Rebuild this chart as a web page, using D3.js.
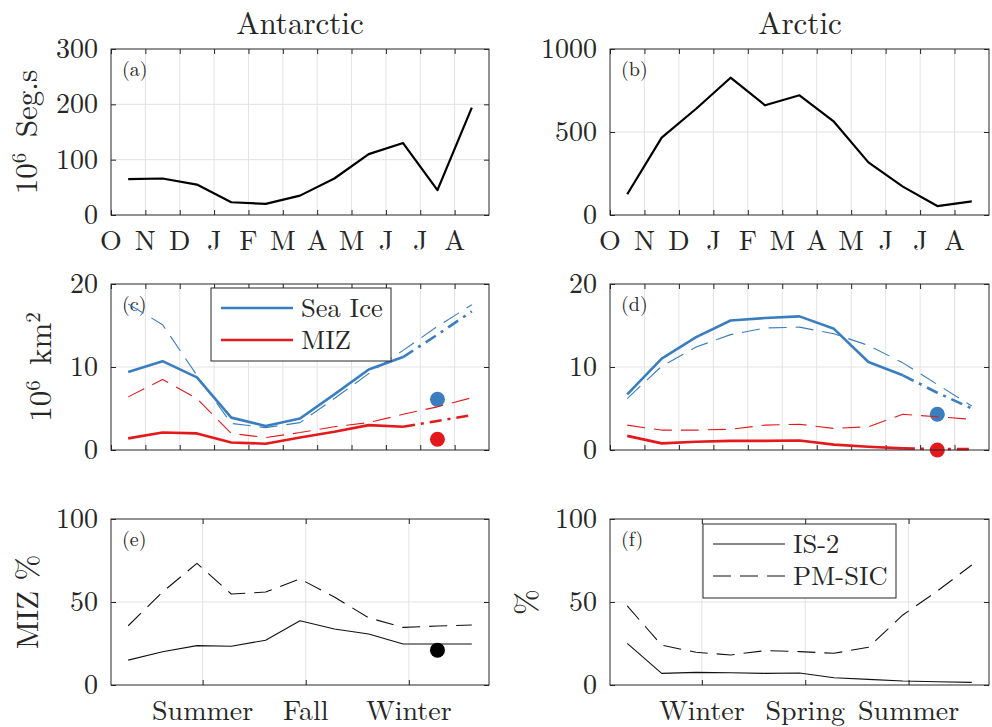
<!DOCTYPE html>
<html>
<head>
<meta charset="utf-8">
<script src="https://cdn.jsdelivr.net/npm/d3@7"></script>
<style>
  body { margin: 0; background: #fff; }
</style>
</head>
<body>
<div id="chart"></div>
<script>
// month labels along the top row, seasons along the bottom row
var months = ["O", "N", "D", "J", "F", "M", "A", "M", "J", "J", "A"];
var seasonsAnt = ["Summer", "Fall", "Winter"];
var seasonsArc = ["Winter", "Spring", "Summer"];
var seasonTicks = [8 / 3, 17 / 3, 26 / 3];

// (a) (b) segments, 10^6
var segAnt = [65, 66, 55, 23, 20, 35, 66, 110, 130, 45, 194];
var segArc = [125, 466, 640, 827, 661, 721, 562, 317, 171, 54, 82];

// (c) (d) extent, 10^6 km^2
var iceAntIS2 = [9.4, 10.7, 8.75, 3.9, 2.9, 3.8, 6.7, 9.7, 11.2, 13.9, 16.7];
var iceAntPM  = [17.6, 15.1, 9.0, 3.2, 2.7, 3.3, 6.2, 9.2, 12.0, 14.9, 17.5];
var mizAntIS2 = [1.4, 2.1, 2.0, 0.9, 0.76, 1.5, 2.2, 3.0, 2.8, 3.5, 4.2];
var mizAntPM  = [6.4, 8.5, 6.2, 2.0, 1.5, 2.1, 2.8, 3.3, 4.3, 5.2, 6.3];
var iceArcIS2 = [6.7, 11.0, 13.6, 15.6, 15.9, 16.1, 14.6, 10.6, 9.0, 6.9, 5.0];
var iceArcPM  = [6.2, 10.1, 12.4, 13.9, 14.7, 14.8, 14.0, 12.6, 10.5, 7.9, 5.3];
var mizArcIS2 = [1.7, 0.8, 1.0, 1.1, 1.1, 1.15, 0.65, 0.4, 0.2, 0.1, 0.1];
var mizArcPM  = [3.0, 2.4, 2.4, 2.5, 3.0, 3.1, 2.6, 2.8, 4.3, 4.0, 3.7];
var dotAnt = { ice: 6.1, miz: 1.3 };
var dotArc = { ice: 4.3, miz: 0 };

// (e) (f) MIZ fraction, %
var pctAntIS2 = [15, 20, 23.7, 23.3, 27, 38.7, 33.7, 30.7, 24.7, 24.7, 24.7];
var pctAntPM  = [35.7, 56, 73.3, 54.8, 56, 63.9, 53, 40.5, 34.7, 35.5, 36.1];
var pctArcIS2 = [25.1, 7, 7.6, 7.4, 7, 7.2, 4.4, 3.4, 2.4, 2, 1.6];
var pctArcPM  = [47.6, 24, 19.7, 18.1, 20.7, 20.1, 19.1, 22.7, 42.2, 56.6, 72.3];
var dotPctAnt = 21;

var blue = "#3b7ec0", red = "#e3191c", axisCol = "#262626";
var serif = "'Latin Modern Roman'";
var W = 992, H = 727;

var svg = d3.select("#chart").append("svg")
  .attr("width", W).attr("height", H);

var cols = [[111, 489], [610, 989]];
var rows = [[49, 215], [284, 450], [519, 685]];

function txt(sel) {
  return sel.append("text").style("font-family", serif).attr("fill", axisCol);
}

function panel(col, row, ymax, yticks, xticks, xlabels, label) {
  var x = d3.scaleLinear().domain([0, 11]).range(cols[col]);
  var y = d3.scaleLinear().domain([0, ymax]).range([rows[row][1], rows[row][0]]);
  var g = svg.append("g");
  var x0 = cols[col][0], x1 = cols[col][1], y0 = rows[row][0], y1 = rows[row][1];

  // grid
  g.selectAll(".gx").data(xticks.filter(function(d) { return d > 0; }))
    .enter().append("line")
    .attr("x1", function(d) { return x(d); }).attr("x2", function(d) { return x(d); })
    .attr("y1", y0).attr("y2", y1)
    .attr("stroke", "#e3e3e3").attr("stroke-width", 1);
  g.selectAll(".gy").data(yticks.filter(function(d) { return d > 0 && d < ymax; }))
    .enter().append("line")
    .attr("x1", x0).attr("x2", x1)
    .attr("y1", function(d) { return y(d); }).attr("y2", function(d) { return y(d); })
    .attr("stroke", "#e3e3e3").attr("stroke-width", 1);

  // axes (inward ticks, box on)
  var tl = 5;
  g.append("g").attr("transform", "translate(0," + y1 + ")")
    .call(d3.axisTop(x).tickValues(xticks).tickSize(tl).tickFormat(""));
  g.append("g").attr("transform", "translate(0," + y0 + ")")
    .call(d3.axisBottom(x).tickValues(xticks).tickSize(tl).tickFormat(""));
  g.append("g").attr("transform", "translate(" + x0 + ",0)")
    .call(d3.axisRight(y).tickValues(yticks).tickSize(tl).tickFormat(""));
  g.append("g").attr("transform", "translate(" + x1 + ",0)")
    .call(d3.axisLeft(y).tickValues(yticks).tickSize(tl).tickFormat(""));
  g.selectAll(".domain").remove();
  g.selectAll(".tick line").attr("stroke", axisCol);
  g.selectAll(".tick text").remove();

  yticks.forEach(function(d) {
    txt(g).attr("x", x0 - 13).attr("y", y(d) + 9)
      .attr("text-anchor", "end").attr("font-size", 28)
      .text(d);
  });

  if (xlabels) {
    xlabels.forEach(function(d, i) {
      txt(g).attr("x", x(xticks[i]))
        .attr("y", y1 + 35)
        .attr("text-anchor", "middle").attr("font-size", 28)
        .text(d);
    });
  }

  txt(g).attr("x", x0 + 11).attr("y", y0 + 27)
    .attr("font-size", 20).text(label);

  g.append("rect").attr("x", x0).attr("y", y0)
    .attr("width", x1 - x0).attr("height", y1 - y0)
    .attr("fill", "none").attr("stroke", axisCol).attr("stroke-width", 1);

  return { g: g, x: x, y: y };
}

function addLine(p, vals, color, width, dash, from, to) {
  var pts = vals.map(function(v, i) { return [i + 0.5, v]; }).slice(from || 0, to == null ? vals.length : to + 1);
  var line = d3.line().x(function(d) { return p.x(d[0]); }).y(function(d) { return p.y(d[1]); });
  p.g.insert("path", "rect:last-of-type")
    .datum(pts)
    .attr("d", line)
    .attr("fill", "none").attr("stroke", color)
    .attr("stroke-width", width)
    .attr("stroke-dasharray", dash || null)
    .attr("stroke-linejoin", "round");
}

function addDot(p, xv, v, color) {
  p.g.insert("circle", "rect:last-of-type")
    .attr("cx", p.x(xv)).attr("cy", p.y(v)).attr("r", 7.5).attr("fill", color);
}

var monthTicks = d3.range(0, 11);
var dashPM = "18,9", dashDot = "12,6,3,6";

// (a)
var pa = panel(0, 0, 300, [0, 100, 200, 300], monthTicks, months, "(a)");
addLine(pa, segAnt, "#000", 2.2);
// (b)
var pb = panel(1, 0, 1000, [0, 500, 1000], monthTicks, months, "(b)");
addLine(pb, segArc, "#000", 2.2);

// (c)
var pc = panel(0, 1, 20, [0, 10, 20], monthTicks, null, "(c)");
addDot(pc, 9.5, dotAnt.ice, blue);
addLine(pc, iceAntPM, blue, 1.1, dashPM);
addLine(pc, mizAntPM, red, 1.1, dashPM);
addLine(pc, iceAntIS2, blue, 2.6, null, 0, 8);
addLine(pc, iceAntIS2, blue, 2.6, dashDot, 8, 10);
addLine(pc, mizAntIS2, red, 2.6, null, 0, 8);
addLine(pc, mizAntIS2, red, 2.6, dashDot, 8, 10);
addDot(pc, 9.5, dotAnt.miz, red);

// (d)
var pd = panel(1, 1, 20, [0, 10, 20], monthTicks, null, "(d)");
addDot(pd, 9.5, dotArc.ice, blue);
addLine(pd, iceArcPM, blue, 1.1, dashPM);
addLine(pd, mizArcPM, red, 1.1, dashPM);
addLine(pd, iceArcIS2, blue, 2.6, null, 0, 8);
addLine(pd, iceArcIS2, blue, 2.6, dashDot, 8, 10);
addLine(pd, mizArcIS2, red, 2.6, null, 0, 8);
addLine(pd, mizArcIS2, red, 2.6, dashDot, 8, 10);
addDot(pd, 9.5, dotArc.miz, red);

// (e)
var pe = panel(0, 2, 100, [0, 50, 100], seasonTicks, seasonsAnt, "(e)");
addLine(pe, pctAntIS2, "#111", 1.1);
addLine(pe, pctAntPM, "#111", 1.1, dashPM);
addDot(pe, 9.5, dotPctAnt, "#000");

// (f)
var pf = panel(1, 2, 100, [0, 50, 100], seasonTicks, seasonsArc, "(f)");
addLine(pf, pctArcIS2, "#111", 1.1);
addLine(pf, pctArcPM, "#111", 1.1, dashPM);

// titles
txt(svg).attr("x", 300).attr("y", 34).attr("text-anchor", "middle")
  .attr("font-size", 31).text("Antarctic");
txt(svg).attr("x", 800).attr("y", 34).attr("text-anchor", "middle")
  .attr("font-size", 31).text("Arctic");

// y labels
function ylabel(cx, cy, parts) {
  var t = txt(svg).attr("transform", "translate(" + cx + "," + cy + ") rotate(-90)")
    .attr("text-anchor", "middle").attr("font-size", 31);
  parts.forEach(function(p) {
    t.append("tspan").attr("dy", p.sup ? -11 : (p.after ? 11 : 0))
      .attr("font-size", p.sup ? 21 : 31).text(p.t);
  });
}
ylabel(37, 132, [{ t: "10" }, { t: "6", sup: true }, { t: "\u00a0Seg.s", after: true }]);
ylabel(51, 367, [{ t: "10" }, { t: "6", sup: true }, { t: "\u00a0km", after: true }, { t: "2", sup: true }]);
ylabel(38, 602, [{ t: "MIZ %" }]);
ylabel(537, 602, [{ t: "%" }]);

// legends
function legend(x0, y0, w, h, items) {
  var g = svg.append("g");
  g.append("rect").attr("x", x0).attr("y", y0).attr("width", w).attr("height", h)
    .attr("fill", "#fff").attr("stroke", axisCol).attr("stroke-width", 1);
  items.forEach(function(it, i) {
    var yy = y0 + 20 + i * 32;
    g.append("line").attr("x1", x0 + 10).attr("x2", x0 + 82)
      .attr("y1", yy).attr("y2", yy)
      .attr("stroke", it.color).attr("stroke-width", it.width)
      .attr("stroke-dasharray", it.dash || null);
    txt(g).attr("x", x0 + 90).attr("y", yy + 9).attr("font-size", 26.5).text(it.name);
  });
}
legend(211, 288, 180, 73, [
  { name: "Sea Ice", color: blue, width: 2.6 },
  { name: "MIZ", color: red, width: 2.6 }
]);
legend(703, 524, 193, 74, [
  { name: "IS-2", color: "#111", width: 1.1 },
  { name: "PM-SIC", color: "#111", width: 1.1, dash: "18,9" }
]);
</script>
</body>
</html>
